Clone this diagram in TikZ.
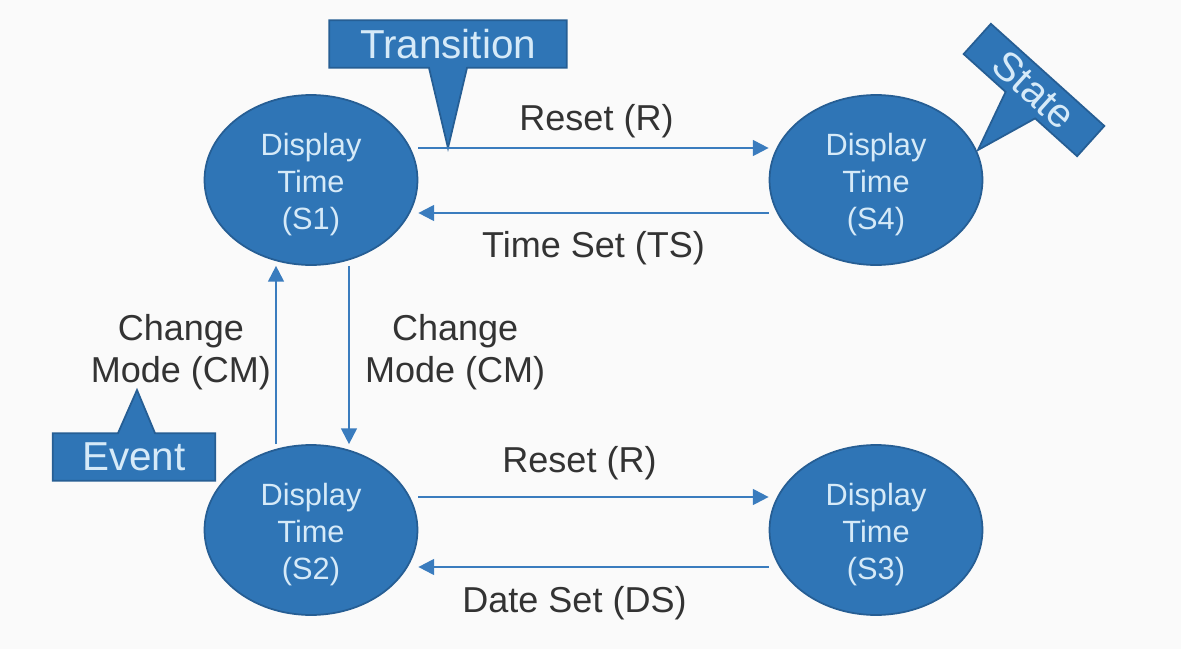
\documentclass[tikz,border=0pt]{standalone}
\usepackage{fontspec}
\setmainfont{Liberation Sans}
\usetikzlibrary{shapes.geometric, arrows.meta, calc, backgrounds}

\definecolor{stateblue}{RGB}{47,117,182}
\definecolor{stateline}{RGB}{38,94,148}
\definecolor{statetext}{RGB}{214,234,248}
\definecolor{arrowblue}{RGB}{58,124,190}
\definecolor{labelgray}{RGB}{51,51,51}
\definecolor{bggray}{RGB}{250,250,250}

% Abstand oben in den Zustaenden
\newcommand{\statestrut}{\rule{0pt}{18pt}}

\begin{document}
\begin{tikzpicture}[
    x=0.02cm, y=-0.02cm,
    >={Triangle[length=9pt, width=9pt]},
    statenode/.style={
        ellipse, draw=stateline, line width=1pt,
        fill=stateblue, text=statetext,
        minimum width=4.26cm, minimum height=3.4cm,
        inner sep=0pt, align=center,
        font=\fontsize{17.5}{21.2}\selectfont
    },
    callout/.style={
        text=statetext,
        minimum height=0.94cm, inner sep=0pt,
        font=\fontsize{23}{26}\selectfont
    },
    calloutshape/.style={
        draw=stateline, line width=1pt, fill=stateblue,
        line join=miter
    },
    edgearrow/.style={->, draw=arrowblue, line width=1.2pt},
    lbl/.style={
        text=labelgray, inner sep=0pt, align=center,
        font=\fontsize{20.5}{24}\selectfont
    }
]

% Hintergrund / Rahmen
\begin{scope}[on background layer]
\path[use as bounding box, fill=bggray] (0,0) rectangle (1181,649);
\end{scope}

% =========================================================
% Zustaende
% =========================================================
\node[statenode] (s1) at (311,180) {\statestrut Display\\Time\\(S1)};
\node[statenode] (s4) at (876,180) {\statestrut Display\\Time\\(S4)};
\node[statenode] (s2) at (311,530) {\statestrut Display\\Time\\(S2)};
\node[statenode] (s3) at (876,530) {\statestrut Display\\Time\\(S3)};

% =========================================================
% Uebergaenge
% =========================================================
\draw[edgearrow] ([yshift=0.64cm]s1.east) -- ([yshift=0.64cm]s4.west)
    node[lbl, midway, xshift=0.06cm, yshift=0.54cm] {Reset (R)};
\draw[edgearrow] ([yshift=-0.66cm]s4.west) -- ([yshift=-0.66cm]s1.east)
    node[lbl, midway, yshift=-0.7cm] {Time Set (TS)};

\draw[edgearrow] ([yshift=0.66cm]s2.east) -- ([yshift=0.66cm]s3.west)
    node[lbl, midway, xshift=-0.28cm, yshift=0.68cm] {Reset (R)};
\draw[edgearrow] ([yshift=-0.74cm]s3.west) -- ([yshift=-0.74cm]s2.east)
    node[lbl, midway, xshift=-0.38cm, yshift=-0.72cm] {Date Set (DS)};

\draw[edgearrow] ([xshift=-0.7cm]s2.north) -- ([xshift=-0.7cm]s1.south)
    node[lbl, midway, anchor=east, xshift=-0.08cm, yshift=0.06cm]
    {Change\\Mode (CM)};
\draw[edgearrow] ([xshift=0.76cm]s1.south) -- ([xshift=0.76cm]s2.north)
    node[lbl, midway, anchor=west, xshift=0.3cm, yshift=0.06cm]
    {Change\\Mode (CM)};

% =========================================================
% Sprechblasen
% =========================================================
% Transition
\node[callout, minimum width=4.74cm] (transition) at (448,44) {Transition};
\coordinate (transition tip) at (448,148);
\coordinate (transition l) at ([xshift=-0.38cm]transition.south);
\coordinate (transition r) at ([xshift=0.38cm]transition.south);

% Event
\node[callout, minimum width=3.24cm] (event) at (134,457) {Event};
\coordinate (event tip) at (137,390);
\coordinate (event l) at ([xshift=-0.32cm]event.north);
\coordinate (event r) at ([xshift=0.42cm]event.north);

% State
\node[callout, minimum width=3.04cm, minimum height=0.8cm, rotate=-42]
    (state) at (1034,90) {State};
\coordinate (state tip) at (978,150);
\coordinate (state l) at ($(state.south west)!0.37!(state.south east)$);
\coordinate (state r) at ($(state.south west)!0.63!(state.south east)$);

\begin{scope}[on background layer]
\draw[calloutshape] (transition.north west) -- (transition.north east)
    -- (transition.south east) -- (transition r) -- (transition tip)
    -- (transition l) -- (transition.south west) -- cycle;
\draw[calloutshape] (event.south west) -- (event.south east)
    -- (event.north east) -- (event r) -- (event tip)
    -- (event l) -- (event.north west) -- cycle;
\draw[calloutshape] (state.north west) -- (state.north east)
    -- (state.south east) -- (state r) -- (state tip)
    -- (state l) -- (state.south west) -- cycle;
\end{scope}

\end{tikzpicture}
\end{document}
